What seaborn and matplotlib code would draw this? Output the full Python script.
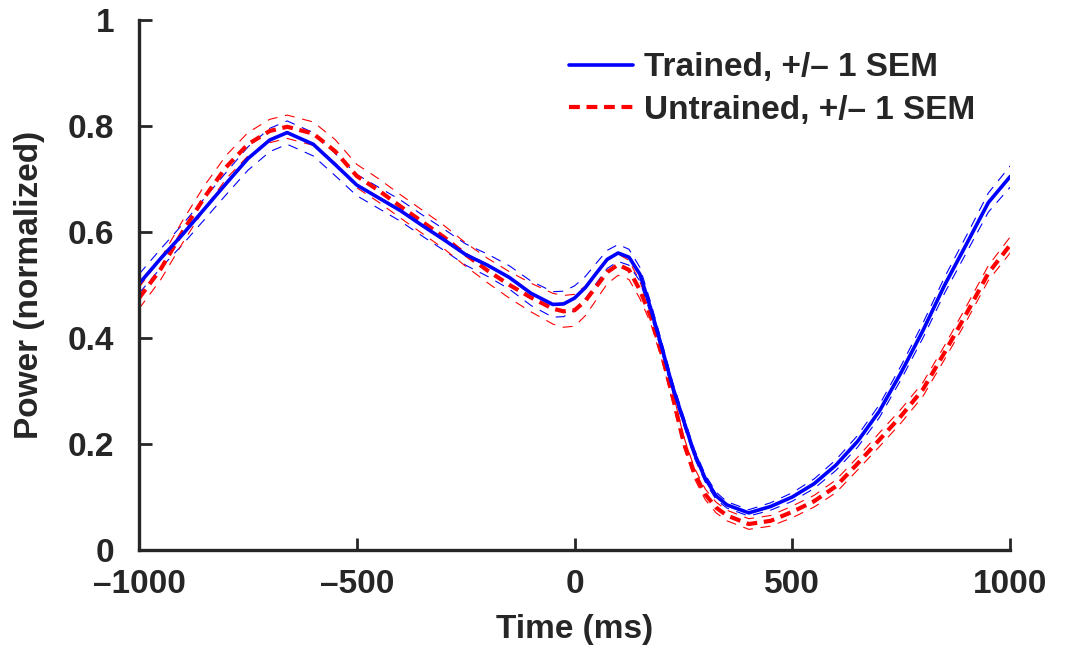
import seaborn as sns
import pandas as pd
import numpy as np
import matplotlib.pyplot as plt

# time points (ms)
time_ms = [-1000, -950, -900, -850, -800, -750, -700, -660, -600, -550, -500, -450,
           -400, -350, -300, -250, -200, -150, -100, -50, -25, 0, 25, 50, 75, 100,
           125, 150, 175, 200, 225, 250, 275, 300, 325, 350, 400, 450, 500, 550, 600, 650,
           700, 750, 800, 850, 900, 950, 1000]

# trained group, mean power and SEM
trained = [0.502, 0.550, 0.595, 0.643, 0.691, 0.738, 0.773, 0.787, 0.765, 0.727, 0.688, 0.664,
           0.640, 0.612, 0.585, 0.557, 0.537, 0.514, 0.484, 0.463, 0.464, 0.475, 0.495, 0.522, 0.548, 0.560,
           0.552, 0.520, 0.455, 0.383, 0.308, 0.245, 0.182, 0.135, 0.102, 0.085, 0.070, 0.082, 0.100, 0.125, 0.160, 0.205,
           0.262, 0.335, 0.414, 0.500, 0.577, 0.655, 0.704]
trained_sem = [0.018, 0.018, 0.019, 0.020, 0.021, 0.022, 0.022, 0.022, 0.022, 0.021, 0.020, 0.020,
               0.020, 0.020, 0.020, 0.020, 0.021, 0.022, 0.023, 0.024, 0.024, 0.023, 0.021, 0.019, 0.017, 0.016,
               0.015, 0.013, 0.011, 0.010, 0.009, 0.008, 0.008, 0.007, 0.007, 0.006, 0.006, 0.007, 0.008, 0.009, 0.010, 0.011,
               0.012, 0.013, 0.014, 0.015, 0.016, 0.018, 0.020]

# untrained group, mean power and SEM
untrained = [0.475, 0.530, 0.600, 0.665, 0.722, 0.765, 0.790, 0.798, 0.785, 0.752, 0.705, 0.678,
             0.648, 0.619, 0.590, 0.557, 0.527, 0.500, 0.476, 0.455, 0.450, 0.452, 0.470, 0.497, 0.524, 0.538,
             0.528, 0.490, 0.440, 0.370, 0.290, 0.205, 0.145, 0.105, 0.080, 0.065, 0.049, 0.055, 0.072, 0.092, 0.120, 0.163,
             0.208, 0.253, 0.303, 0.373, 0.446, 0.522, 0.575]
untrained_sem = [0.020, 0.020, 0.021, 0.022, 0.022, 0.022, 0.022, 0.022, 0.022, 0.022, 0.022, 0.022,
                 0.022, 0.022, 0.022, 0.022, 0.023, 0.025, 0.027, 0.029, 0.030, 0.030, 0.028, 0.025, 0.022, 0.020,
                 0.018, 0.016, 0.013, 0.011, 0.010, 0.010, 0.010, 0.010, 0.010, 0.010, 0.010, 0.010, 0.011, 0.011, 0.012, 0.012,
                 0.013, 0.013, 0.013, 0.013, 0.014, 0.014, 0.015]

t = np.array(time_ms)
tr = np.array(trained)
trs = np.array(trained_sem)
un = np.array(untrained)
uns = np.array(untrained_sem)

sns.set_style("ticks")
plt.rcParams['font.family'] = ['Liberation Sans', 'DejaVu Sans']
plt.rcParams['font.weight'] = 'bold'
plt.rcParams['axes.labelweight'] = 'bold'

fig = plt.figure(figsize=(10.78, 6.54), dpi=100)
ax = fig.add_axes([0.129, 0.159, 0.808, 0.811])

# SEM bands as thin dashed lines
for sign in (1, -1):
    sns.lineplot(x=t, y=tr + sign * trs, color="blue", linewidth=0.8, linestyle=(0, (9, 7)), ax=ax)
    sns.lineplot(x=t, y=un + sign * uns, color="red", linewidth=0.8, linestyle=(0, (9, 7)), ax=ax)

sns.lineplot(x=t, y=un, color="red", linewidth=3, linestyle=(0, (2.6, 1.6)),
             label="Untrained, +/\u2013 1 SEM", ax=ax)
sns.lineplot(x=t, y=tr, color="blue", linewidth=2.6, label="Trained, +/\u2013 1 SEM", ax=ax)

ax.set_xlim(-1000, 1000)
ax.set_ylim(0, 1)
ax.set_xticks([-1000, -500, 0, 500, 1000])
ax.set_xticklabels(["\u20131000", "\u2013500", "0", "500", "1000"])
ax.set_yticks([0, 0.2, 0.4, 0.6, 0.8, 1])
ax.set_yticklabels(["0", "0.2", "0.4", "0.6", "0.8", "1"])
ax.tick_params(direction="in", length=9, width=2, labelsize=24)
ax.tick_params(axis="x", pad=14)
ax.tick_params(axis="y", pad=18)
for lab in ax.get_xticklabels() + ax.get_yticklabels():
    lab.set_fontweight("bold")
sns.despine(ax=ax)
ax.spines["left"].set_linewidth(2.4)
ax.spines["bottom"].set_linewidth(2.4)

ax.set_xlabel("Time (ms)", fontsize=24, fontweight="bold", labelpad=10)
ax.set_ylabel("Power (normalized)", fontsize=24, fontweight="bold", labelpad=16)

h, l = ax.get_legend_handles_labels()
ax.legend(h[::-1], l[::-1], loc="upper right", frameon=False, fontsize=24,
          handlelength=1.9, handletextpad=0.35, labelspacing=0.35,
          bbox_to_anchor=(0.995, 0.995))

fig.savefig("out.png", dpi=100)
